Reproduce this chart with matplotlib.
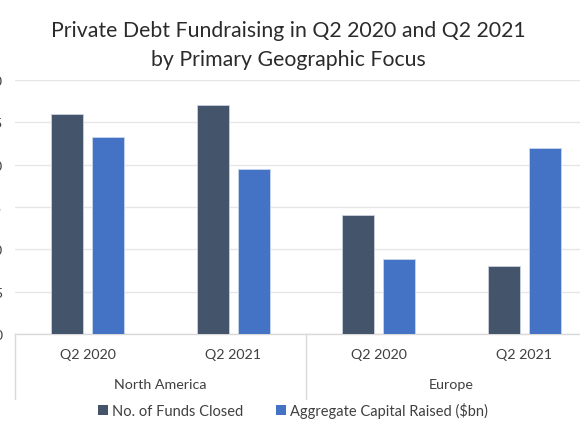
import matplotlib
matplotlib.use("Agg")
import matplotlib.pyplot as plt
import matplotlib.transforms as mtransforms
from matplotlib.patches import Patch

plt.rcParams['font.family'] = ['Lato', 'DejaVu Sans']

# ---- data ----
periods = ["Q2 2020", "Q2 2021", "Q2 2020", "Q2 2021"]
regions = ["North America", "Europe"]
funds_closed = [26, 27, 14, 8]
capital_raised = [23.3, 19.5, 8.9, 22]
yticks = [0, 5, 10, 15, 20, 25, 30]
series_names = ["No. of Funds Closed", "Aggregate Capital Raised ($bn)"]

dark = "#44546A"
blue = "#4472C4"
grid_c = "#E6E6E6"
axis_c = "#D9D9D9"
text_c = "#404040"

fig = plt.figure(figsize=(5.8, 4.35), dpi=100)
W, H = 580, 435
ax = fig.add_axes([15 / W, 1 - 335.3 / H, (597 - 15) / W, (335.3 - 80.7) / H])

x = list(range(len(periods)))
bw = 0.22
off = 0.142
ax.bar([i - off for i in x], funds_closed, width=bw, color=dark,
       edgecolor="#C9D2DE", linewidth=0.6, zorder=3)
ax.bar([i + off for i in x], capital_raised, width=bw, color=blue,
       edgecolor="#C9D6EE", linewidth=0.6, zorder=3)

ax.set_xlim(-0.5, 3.5)
ax.set_ylim(0, 30)
ax.set_yticks(yticks)
ax.set_yticklabels([str(v) for v in yticks], color=text_c, fontsize=10)
ax.tick_params(axis='y', length=0, pad=9)
ax.yaxis.grid(True, color=grid_c, linewidth=1, zorder=0)
ax.set_xticks([])
for s in ['top', 'right', 'left']:
    ax.spines[s].set_visible(False)
ax.spines['bottom'].set_color(axis_c)
ax.spines['bottom'].set_linewidth(1)

# category labels
for i, p in enumerate(periods):
    ax.annotate(p, xy=(i, 0), xycoords=('data', 'axes fraction'),
                xytext=(0, -14.5), textcoords='offset points',
                ha='center', va='center', fontsize=10.3, color=text_c)
for j, r in enumerate(regions):
    ax.annotate(r, xy=(2 * j + 0.5, 0), xycoords=('data', 'axes fraction'),
                xytext=(0, -35.5), textcoords='offset points',
                ha='center', va='center', fontsize=10.3, color=text_c)

# group separators
trans = mtransforms.blended_transform_factory(ax.transData, ax.transAxes)
for xs in [-0.5, 1.5, 3.5]:
    ax.plot([xs, xs], [0, -0.255], transform=trans, color=axis_c,
            linewidth=1, clip_on=False)

# title
fig.text(0.497, 1 - 45.5 / H,
         "Private Debt Fundraising in Q2 2020 and Q2 2021\nby Primary Geographic Focus",
         ha='center', va='center', fontsize=15.3, color="#2b2b2b", linespacing=1.62)

# legend
handles = [Patch(facecolor=dark), Patch(facecolor=blue)]
fig.legend(handles, series_names, loc='center', bbox_to_anchor=(0.505, 1 - 411 / H),
           ncol=2, frameon=False, fontsize=10.5, handlelength=0.7, handleheight=0.7,
           handletextpad=0.3, columnspacing=2.2, labelcolor=text_c)

fig.savefig("out.png", dpi=100)
